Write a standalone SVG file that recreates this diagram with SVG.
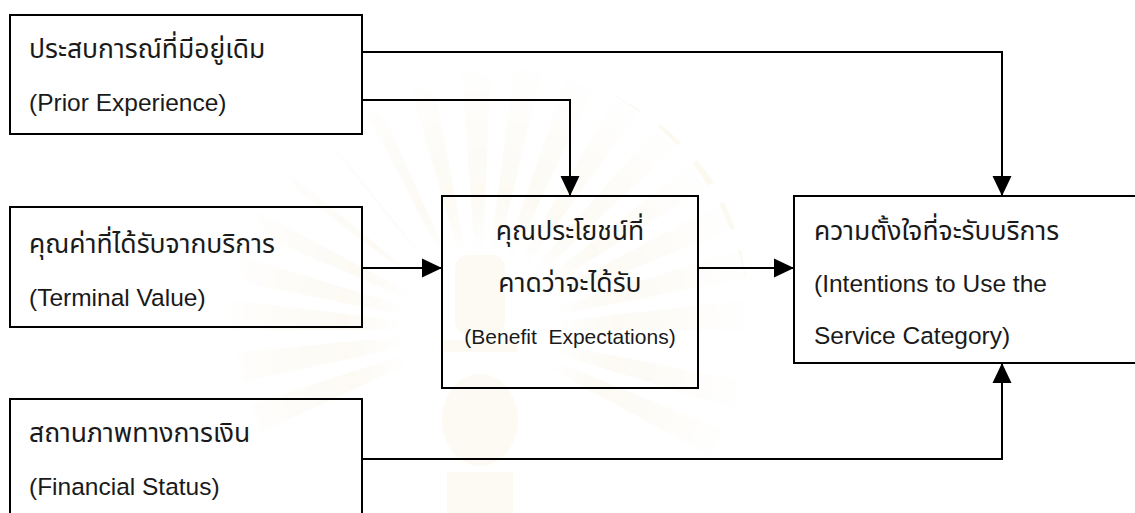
<svg xmlns="http://www.w3.org/2000/svg" width="1135" height="513" viewBox="0 0 1135 513">
  <style>
    .box { fill: none; stroke: #000; stroke-width: 2; }
    .link { fill: none; stroke: #000; stroke-width: 2; }
    .t { font-family: "Liberation Sans", "Noto Sans Thai", "Noto Sans", sans-serif; font-size: 24.5px; fill: #1a1a1a; }
    .th { font-size: 26.5px; }
    .small { font-size: 21px; }
    .mid { text-anchor: middle; }
    .ray { fill: #f7edd2; }
  </style>
  <defs>
    <marker id="arrow" markerUnits="userSpaceOnUse" markerWidth="20" markerHeight="20" viewBox="0 0 20 20" refX="20" refY="10" orient="auto">
      <path d="M0,0.5 L20,10 L0,19.5 Z" fill="#000"/>
    </marker>
    <radialGradient id="fade" cx="480" cy="330" r="270" gradientUnits="userSpaceOnUse">
      <stop offset="0.3" stop-color="#fff" stop-opacity="1"/>
      <stop offset="0.5" stop-color="#fff" stop-opacity="0.2"/>
      <stop offset="1" stop-color="#fff" stop-opacity="1"/>
    </radialGradient>
  </defs>

  <rect width="1135" height="513" fill="#fff"/>

  <!-- faint seal in the background -->
  <g id="seal" opacity="0.3">
    <g class="ray">
      <path d="M480,330 L230,300 L232,330 Z"/>
      <path d="M480,330 L238,255 L245,283 Z"/>
      <path d="M480,330 L255,210 L267,238 Z"/>
      <path d="M480,330 L283,168 L300,193 Z"/>
      <path d="M480,330 L320,132 L340,153 Z"/>
      <path d="M480,330 L362,104 L386,120 Z"/>
      <path d="M480,330 L410,84 L436,95 Z"/>
      <path d="M480,330 L462,72 L490,76 Z"/>
      <path d="M480,330 L514,70 L542,70 Z"/>
      <path d="M480,330 L566,78 L593,87 Z"/>
      <path d="M480,330 L616,96 L640,110 Z"/>
      <path d="M480,330 L660,124 L681,142 Z"/>
      <path d="M480,330 L697,160 L714,182 Z"/>
      <path d="M480,330 L724,202 L735,228 Z"/>
      <path d="M480,330 L741,250 L746,278 Z"/>
      <path d="M480,330 L748,300 L748,330 Z"/>
      <path d="M480,330 L236,352 L243,382 Z"/>
      <path d="M480,330 L250,405 L262,432 Z"/>
      <path d="M480,330 L740,380 L733,408 Z"/>
      <path d="M480,330 L722,430 L710,456 Z"/>
    </g>
    <circle cx="480" cy="330" r="270" fill="url(#fade)"/>
    <g fill="#f7efd9">
      <rect x="455" y="255" width="50" height="80" rx="14"/>
      <rect x="442" y="340" width="76" height="12" rx="4"/>
      <ellipse cx="480" cy="420" rx="38" ry="46"/>
      <rect x="447" y="472" width="66" height="41"/>
    </g>
  </g>

  <!-- connectors -->
  <g id="connectors">
    <path class="link" d="M362,52 H1002 V196" marker-end="url(#arrow)"/>
    <path class="link" d="M362,100 H570 V196" marker-end="url(#arrow)"/>
    <path class="link" d="M362,268 H442" marker-end="url(#arrow)"/>
    <path class="link" d="M698,268 H794" marker-end="url(#arrow)"/>
    <path class="link" d="M362,459 H1002 V363" marker-end="url(#arrow)"/>
  </g>

  <g id="prior-experience">
    <rect class="box" x="10" y="15" width="352" height="119"/>
    <text class="t th" x="29" y="58">ประสบการณ์ที่มีอยู่เดิม</text>
    <text class="t" x="29" y="111">(Prior Experience)</text>
  </g>

  <g id="terminal-value">
    <rect class="box" x="10" y="207" width="352" height="120"/>
    <text class="t th" x="29" y="253">คุณค่าที่ได้รับจากบริการ</text>
    <text class="t" x="29" y="306">(Terminal Value)</text>
  </g>

  <g id="financial-status">
    <rect class="box" x="10" y="399" width="352" height="130"/>
    <text class="t th" x="29" y="442">สถานภาพทางการเงิน</text>
    <text class="t" x="29" y="495">(Financial Status)</text>
  </g>

  <g id="benefit-expectations">
    <rect class="box" x="442" y="196" width="256" height="192"/>
    <text class="t th mid" x="570" y="240">คุณประโยชน์ที่</text>
    <text class="t th mid" x="570" y="292">คาดว่าจะได้รับ</text>
    <text class="t small mid" x="570" y="344" xml:space="preserve">(Benefit  Expectations)</text>
  </g>

  <g id="intentions">
    <rect class="box" x="794" y="196" width="360" height="167"/>
    <text class="t th" x="814" y="240">ความตั้งใจที่จะรับบริการ</text>
    <text class="t" x="814" y="292">(Intentions to Use the</text>
    <text class="t" x="814" y="344">Service Category)</text>
  </g>
</svg>
